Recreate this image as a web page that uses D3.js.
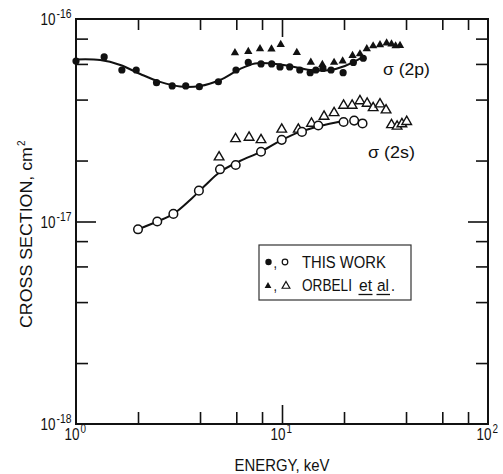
<!DOCTYPE html>
<html>
<head>
<meta charset="utf-8">
<script src="https://cdn.jsdelivr.net/npm/d3@7"></script>
<style>
  html, body { margin: 0; padding: 0; background: #fff; }
  svg { display: block; }
  text { font-family: "Liberation Sans Narrow", "Arial Narrow", "Liberation Sans", sans-serif; fill: #111; }
</style>
</head>
<body>
<svg id="chart" width="503" height="474"></svg>
<script>
// Energy in keV, cross sections in cm^2

// sigma(2p), this work (filled circles)
const p2Energy = [1.0, 1.37, 1.67, 1.96, 2.46, 2.93, 3.41, 3.97, 4.91, 5.98, 6.86, 7.91, 8.91, 9.78, 10.9, 12.2, 13.7, 14.6, 15.8, 17.3, 19.8, 22.2, 24.8];
const p2Sigma  = [6.2e-17, 6.5e-17, 5.6e-17, 5.6e-17, 4.85e-17, 4.67e-17, 4.67e-17, 4.63e-17, 4.9e-17, 5.6e-17, 6.1e-17, 6.0e-17, 6.0e-17, 5.8e-17, 5.8e-17, 5.6e-17, 5.43e-17, 5.6e-17, 5.7e-17, 5.6e-17, 5.43e-17, 6.1e-17, 6.4e-17];

// sigma(2p), Orbeli et al. (filled triangles)
const p2OrbEnergy = [5.91, 6.86, 7.82, 8.89, 9.86, 11.8, 13.8, 15.7, 17.9, 19.7, 22.0, 23.9, 25.8, 27.7, 29.9, 32.2, 34.0, 35.6, 37.4];
const p2OrbSigma  = [6.80e-17, 6.91e-17, 7.13e-17, 7.11e-17, 7.48e-17, 6.83e-17, 6.11e-17, 5.96e-17, 6.10e-17, 6.20e-17, 6.60e-17, 6.72e-17, 7.13e-17, 7.36e-17, 7.46e-17, 7.61e-17, 7.52e-17, 7.36e-17, 7.40e-17];

// sigma(2p) smooth curve
const p2FitEnergy = [1.0, 1.31, 1.64, 2.05, 2.56, 3.2, 4.0, 5.0, 6.25, 7.39, 8.75, 10.9, 13.7, 17.1, 20.2, 25.3];
const p2FitSigma  = [6.31e-17, 6.27e-17, 5.93e-17, 5.35e-17, 4.89e-17, 4.64e-17, 4.67e-17, 5.0e-17, 5.66e-17, 6.03e-17, 6.03e-17, 5.86e-17, 5.6e-17, 5.6e-17, 5.86e-17, 6.57e-17];

// sigma(2s), this work (open circles)
const s2Energy = [2.0, 2.48, 2.97, 3.95, 5.0, 5.96, 7.91, 9.97, 12.5, 15.0, 19.9, 22.4, 24.6];
const s2Sigma  = [0.915e-17, 1.0e-17, 1.09e-17, 1.42e-17, 1.81e-17, 1.90e-17, 2.21e-17, 2.53e-17, 2.77e-17, 2.98e-17, 3.10e-17, 3.15e-17, 3.05e-17];

// sigma(2s), Orbeli et al. (open triangles)
const s2OrbEnergy = [4.95, 5.95, 6.92, 7.91, 9.97, 12.0, 13.9, 16.0, 17.9, 19.9, 21.9, 23.9, 25.9, 27.7, 29.9, 32.0, 34.0, 36.2, 38.2, 40.3];
const s2OrbSigma  = [2.08e-17, 2.56e-17, 2.60e-17, 2.53e-17, 2.85e-17, 2.85e-17, 3.05e-17, 3.30e-17, 3.44e-17, 3.74e-17, 3.74e-17, 3.94e-17, 3.83e-17, 3.64e-17, 3.80e-17, 3.55e-17, 3.0e-17, 2.95e-17, 3.03e-17, 3.11e-17];

// sigma(2s) smooth curve
const s2FitEnergy = [2.0, 2.48, 2.97, 3.58, 4.23, 5.0, 6.25, 7.82, 9.78, 12.2, 15.3, 19.8];
const s2FitSigma  = [0.915e-17, 1.0e-17, 1.09e-17, 1.277e-17, 1.506e-17, 1.756e-17, 1.99e-17, 2.2e-17, 2.5e-17, 2.77e-17, 2.96e-17, 3.135e-17];

// axis ticks and labels
const xMinorTicks = [2, 4, 6, 8, 20, 40, 60, 80];
const xMajorTicks = [10];
const xLabelTicks = [1, 10, 100];
const xLabelExp = ["0", "1", "2"];
const yMinorTicks = [2e-18, 4e-18, 6e-18, 8e-18, 2e-17, 4e-17, 6e-17, 8e-17];
const yMajorTicks = [1e-17];
const yLabelTicks = [1e-16, 1e-17, 1e-18];
const yLabelExp = ["-16", "-17", "-18"];

const svg = d3.select("#chart");
const plotLeft = 76, plotRight = 488, plotTop = 19, plotBottom = 424;

const x = d3.scaleLog().domain([1, 100]).range([plotLeft, plotRight]);
const y = d3.scaleLog().domain([1e-18, 1e-16]).range([plotBottom, plotTop]);

const zip = (a, b) => a.map((v, i) => [v, b[i]]);

// condensed lettering: draw at full size, then squeeze horizontally to the wanted width
function condensed(parent, px, py, str, size, width, opts = {}) {
  const t = parent.append("text").attr("font-size", size).text(str);
  const natural = t.node().getComputedTextLength();
  const s = width / natural;
  const shift = opts.anchor === "middle" ? -width / 2 : opts.anchor === "end" ? -width : 0;
  const rot = opts.rotate ? ` rotate(${opts.rotate})` : "";
  t.attr("transform", `translate(${px},${py})${rot} translate(${shift},0) scale(${s},1)`);
  return t;
}

// tick marks pointing into the plot on all four sides
function tickAxis(axis, transform, values, size) {
  const g = svg.append("g").attr("transform", transform)
    .call(axis.tickValues(values).tickSize(-size).tickSizeOuter(0).tickFormat(""));
  g.select(".domain").remove();
  g.selectAll(".tick line").attr("stroke", "#111").attr("stroke-width", 1.6);
}
tickAxis(d3.axisBottom(x), `translate(0,${plotBottom})`, xMinorTicks, 12);
tickAxis(d3.axisBottom(x), `translate(0,${plotBottom})`, xMajorTicks, 19);
tickAxis(d3.axisTop(x), `translate(0,${plotTop})`, xMinorTicks, 11);
tickAxis(d3.axisTop(x), `translate(0,${plotTop})`, xMajorTicks, 18);
tickAxis(d3.axisLeft(y), `translate(${plotLeft},0)`, yMinorTicks, 12);
tickAxis(d3.axisLeft(y), `translate(${plotLeft},0)`, yMajorTicks, 20);
tickAxis(d3.axisRight(y), `translate(${plotRight},0)`, yMinorTicks, 12);
tickAxis(d3.axisRight(y), `translate(${plotRight},0)`, yMajorTicks, 20);

// frame
svg.append("rect")
  .attr("x", plotLeft).attr("y", plotTop)
  .attr("width", plotRight - plotLeft).attr("height", plotBottom - plotTop)
  .attr("fill", "none").attr("stroke", "#111").attr("stroke-width", 2);

// power-of-ten labels: base and exponent meeting at xJoin
function powerLabel(xJoin, yBase, exp, expWidth) {
  condensed(svg, xJoin - 15.5, yBase, "10", 16, 15);
  condensed(svg, xJoin + 0.5, yBase - 7, exp, 12, expWidth);
}
xLabelTicks.forEach((v, i) => powerLabel(x(v) + 4, plotBottom + 16, xLabelExp[i], 5.5));
yLabelTicks.forEach((v, i) => powerLabel(plotLeft - 20, y(v) + 6, yLabelExp[i], 15));

// axis titles
condensed(svg, 282, 471, "ENERGY, keV", 16, 95, { anchor: "middle" });
const yTitle = condensed(svg, 32, 328, "CROSS SECTION, cm", 17, 181, { rotate: -90 });
condensed(svg, 25, 146, "2", 11, 5.5, { rotate: -90 });

// fitted curves
const line = d3.line().x(d => x(d[0])).y(d => y(d[1])).curve(d3.curveCatmullRom.alpha(0.5));
svg.append("path").datum(zip(p2FitEnergy, p2FitSigma)).attr("d", line)
  .attr("fill", "none").attr("stroke", "#111").attr("stroke-width", 2);
svg.append("path").datum(zip(s2FitEnergy, s2FitSigma)).attr("d", line)
  .attr("fill", "none").attr("stroke", "#111").attr("stroke-width", 2);

// markers
const triFilled = d3.symbol().type(d3.symbolTriangle).size(30);
const triOpen = d3.symbol().type(d3.symbolTriangle).size(40);

svg.append("g").selectAll("path").data(zip(p2OrbEnergy, p2OrbSigma)).join("path")
  .attr("transform", d => `translate(${x(d[0])},${y(d[1])})`)
  .attr("d", triFilled).attr("fill", "#111");

svg.append("g").selectAll("path").data(zip(s2OrbEnergy, s2OrbSigma)).join("path")
  .attr("transform", d => `translate(${x(d[0])},${y(d[1])})`)
  .attr("d", triOpen).attr("fill", "#fff").attr("stroke", "#111").attr("stroke-width", 1.4);

svg.append("g").selectAll("circle").data(zip(p2Energy, p2Sigma)).join("circle")
  .attr("cx", d => x(d[0])).attr("cy", d => y(d[1])).attr("r", 3.6).attr("fill", "#111");

svg.append("g").selectAll("circle").data(zip(s2Energy, s2Sigma)).join("circle")
  .attr("cx", d => x(d[0])).attr("cy", d => y(d[1])).attr("r", 4.3)
  .attr("fill", "#fff").attr("stroke", "#111").attr("stroke-width", 1.5);

// curve labels
condensed(svg, 383, 75, "σ (2p)", 17, 47);
condensed(svg, 368, 158, "σ (2s)", 17, 47);

// legend
const lg = svg.append("g");
lg.append("rect").attr("x", 259).attr("y", 245).attr("width", 152).attr("height", 55)
  .attr("fill", "#fff").attr("stroke", "#333").attr("stroke-width", 1.2);
lg.append("circle").attr("cx", 268.5).attr("cy", 262).attr("r", 3.2).attr("fill", "#111");
condensed(lg, 273.5, 268, ",", 16, 3.5);
lg.append("circle").attr("cx", 285).attr("cy", 262).attr("r", 2.8).attr("fill", "none").attr("stroke", "#111").attr("stroke-width", 1.2);
condensed(lg, 302, 268, "THIS  WORK", 17, 84);
lg.append("path").attr("transform", "translate(268,286)").attr("d", d3.symbol().type(d3.symbolTriangle).size(20)).attr("fill", "#111");
condensed(lg, 273.5, 291, ",", 16, 3.5);
lg.append("path").attr("transform", "translate(286,286)").attr("d", d3.symbol().type(d3.symbolTriangle).size(26)).attr("fill", "none").attr("stroke", "#111").attr("stroke-width", 1.2);
condensed(lg, 302, 291, "ORBELI", 17, 50);
condensed(lg, 359, 291, "et", 17, 13);
condensed(lg, 377, 291, "al", 17, 12);
condensed(lg, 391, 291, ".", 17, 4);
[[358.5, 372.5], [376.5, 390]].forEach(([a, b]) =>
  lg.append("line").attr("x1", a).attr("x2", b).attr("y1", 294.5).attr("y2", 294.5)
    .attr("stroke", "#111").attr("stroke-width", 1.3));
</script>
</body>
</html>
